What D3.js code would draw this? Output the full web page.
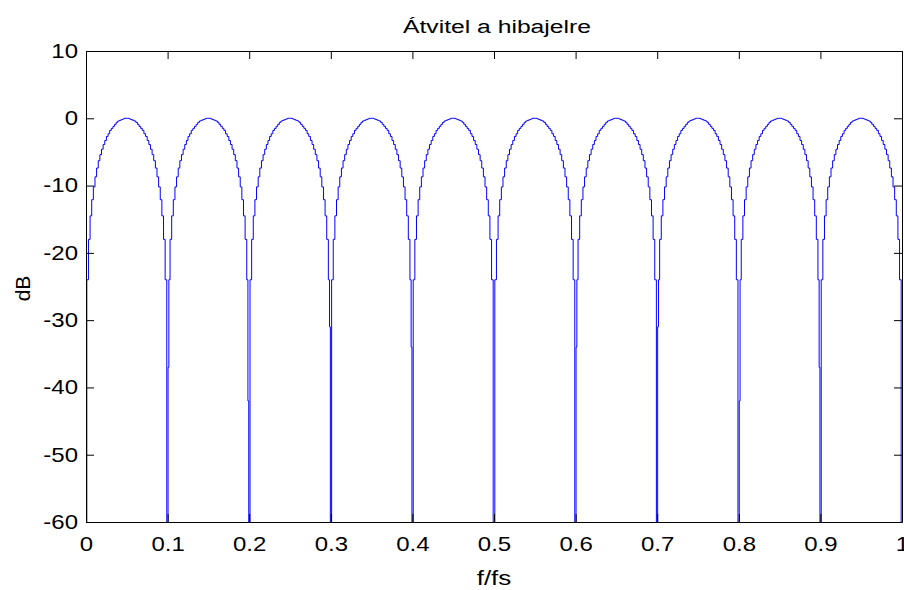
<!DOCTYPE html>
<html>
<head>
<meta charset="utf-8">
<script src="https://cdn.jsdelivr.net/npm/d3@7"></script>
<style>
  body { margin: 0; background: #fff; }
  svg text { font-family: "Liberation Sans", Arial, sans-serif; fill: #000; }
</style>
</head>
<body>
<div id="chart"></div>
<script>
"use strict"

// x ticks (f/fs) and y ticks (dB)
const xTicks = [0, 0.1, 0.2, 0.3, 0.4, 0.5, 0.6, 0.7, 0.8, 0.9, 1];
const yTicks = [10, 0, -10, -20, -30, -40, -50, -60];

// one lobe repeats every 0.1; half lobe, from the notch to the peak
const lobeStep = 0.002;
const halfLobeDb = [-90, -24.0, -18.0, -14.5, -12.1, -10.2, -8.7, -7.4, -6.3, -5.4,
                    -4.6, -3.9, -3.3, -2.7, -2.3, -1.8, -1.5, -1.2, -0.9, -0.6,
                    -0.4, -0.3, -0.2, -0.1, 0.0, 0.0];
const lobeStarts = [0, 0.1, 0.2, 0.3, 0.4, 0.5, 0.6, 0.7, 0.8, 0.9];

// short extra step right beside some notches (side -1 = left, +1 = right)
const notchAt   = [0.1, 0.2, 0.3, 0.4, 0.6, 0.7, 0.8, 0.9];
const notchSide = [1, -1, -1, -1, 1, 1, 1, -1];
const notchDb   = [-37, -42, -31, -34, -34, -31, -42, -37];

const W = 904, H = 590;
const margin = {left: 86, right: 2, top: 51, bottom: 68};
const width = W - margin.left - margin.right;
const height = H - margin.top - margin.bottom;
const stretch = 1.2; // the reference text is drawn wide

// build the point list from the lobe table
const lobeDb = halfLobeDb.concat(halfLobeDb.slice(0, -1).reverse());
let pts = [];
lobeStarts.forEach(s => {
	lobeDb.forEach((v, i) => {
		if (i === lobeDb.length - 1) return;
		pts.push({f: s + i * lobeStep, db: v});
	});
});
pts.push({f: 1, db: -90});
notchAt.forEach((n, i) => {
	pts.push({f: n + notchSide[i] * lobeStep * 0.55, db: notchDb[i]});
});
pts.sort((a, b) => a.f - b.f);

const xScale = d3.scaleLinear().domain([0, 1]).range([0, width]);
const yScale = d3.scaleLinear().domain([-60, 10]).range([height, 0]);

const svg = d3.select("#chart").append("svg")
	.attr("width", W).attr("height", H);

svg.append("defs").append("clipPath").attr("id", "clip")
	.append("rect").attr("width", width).attr("height", height);

const g = svg.append("g").attr("transform", `translate(${margin.left},${margin.top})`);

const line = d3.line()
	.x(d => xScale(d.f))
	.y(d => yScale(d.db))
	.curve(d3.curveStep);

g.append("path")
	.datum(pts)
	.attr("clip-path", "url(#clip)")
	.attr("fill", "none")
	.attr("stroke", "#0000ff")
	.attr("stroke-width", 1)
	.attr("d", line);

const tickLen = 8;

// axes on all four sides with inward ticks, MATLAB style
const axB = g.append("g").attr("transform", `translate(0,${height})`)
	.call(d3.axisBottom(xScale).tickValues(xTicks).tickSizeInner(-tickLen).tickSizeOuter(0)
		.tickPadding(15).tickFormat(d => String(d)));
const axT = g.append("g")
	.call(d3.axisTop(xScale).tickValues(xTicks).tickSizeInner(-tickLen).tickSizeOuter(0).tickFormat(""));
const axL = g.append("g")
	.call(d3.axisLeft(yScale).tickValues(yTicks).tickSizeInner(-tickLen).tickSizeOuter(0)
		.tickFormat(d => String(d)));
const axR = g.append("g").attr("transform", `translate(${width},0)`)
	.call(d3.axisRight(yScale).tickValues(yTicks).tickSizeInner(-tickLen).tickSizeOuter(0).tickFormat(""));

[axB, axT, axL, axR].forEach(a => {
	a.selectAll("path.domain").attr("stroke", "#000").attr("stroke-width", 1);
	a.selectAll(".tick line").attr("stroke", "#000");
	a.selectAll("text").attr("font-size", 20).attr("fill", "#000")
		.style("font-family", '"Liberation Sans", Arial, sans-serif');
});

// widen the tick labels like the reference
axB.selectAll(".tick text").attr("transform", `scale(${stretch},1)`);
axL.selectAll(".tick text")
	.attr("x", -8 / stretch)
	.attr("transform", `scale(${stretch},1)`);

svg.append("text")
	.attr("transform", `translate(${margin.left + width / 2 + 3},33) scale(1.3,1)`)
	.attr("text-anchor", "middle").attr("font-size", 19)
	.text("Átvitel a hibajelre");

svg.append("text")
	.attr("transform", `translate(${margin.left + width / 2},585) scale(1.3,1)`)
	.attr("text-anchor", "middle").attr("font-size", 20)
	.text("f/fs");

svg.append("text")
	.attr("transform", `translate(30,${margin.top + height / 2 + 2})rotate(-90)`)
	.attr("text-anchor", "middle").attr("font-size", 21)
	.text("dB");
</script>
</body>
</html>
